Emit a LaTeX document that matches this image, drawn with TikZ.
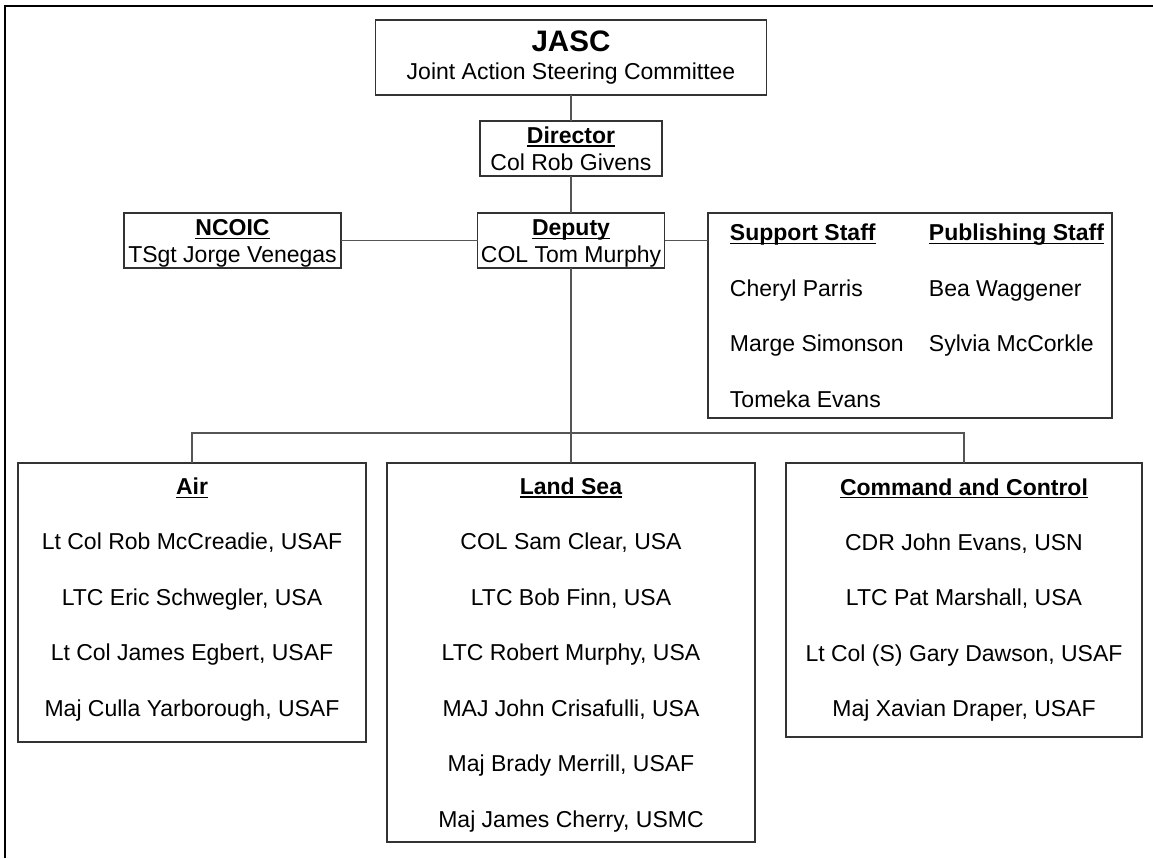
\documentclass[tikz,border=0pt]{standalone}
\usepackage{fontspec}
\setmainfont{Liberation Sans}
\definecolor{boxc}{HTML}{333333}
\definecolor{linec}{HTML}{555555}
\newsavebox\hdbox
\newcommand\uhead[1]{\sbox\hdbox{\textbf{#1}}\rlap{\rule[-2.6pt]{\wd\hdbox}{1.1pt}}\usebox\hdbox}
\newcommand\upstrut[1]{\rule{0pt}{#1}}
\newcommand\dnstrut[1]{\rule[-#1]{0pt}{0pt}}
\begin{document}
\begin{tikzpicture}[x=0.75pt,y=-0.75pt,
  box/.style={draw=boxc, line width=1.4pt, inner sep=0pt, outer sep=0pt, align=center,
    font=\fontsize{17.25pt}{20.25pt}\selectfont},
  team/.style={box, font=\fontsize{17.25pt}{41.6pt}\selectfont},
  conn/.style={draw=linec, line width=1pt},
  frame/.style={draw=black, line width=1.5pt}]
\useasboundingbox (0,0) rectangle (1153,858);
\draw[frame] (5,858) -- (5,6) -- (1153,6);

\node[box, minimum width=293.25pt, minimum height=56.25pt, font=\fontsize{17.25pt}{20.7pt}\selectfont] (jasc) at (571,57.5)
  {{\fontsize{22.2pt}{24pt}\selectfont\textbf{JASC}}\\Joint Action Steering Committee};
\node[box, minimum width=136.5pt, minimum height=41.25pt] (director) at (571,148.5)
  {\uhead{Director}\\Col Rob Givens};
\node[box, minimum width=140.25pt, minimum height=41.25pt] (deputy) at (571,240.5)
  {\upstrut{16.9pt}\uhead{Deputy}\\COL Tom Murphy};
\node[box, minimum width=162.75pt, minimum height=41.25pt] (ncoic) at (232.5,240.5)
  {\upstrut{16.9pt}\uhead{NCOIC}\\TSgt Jorge Venegas};
\node[box, minimum width=303pt, minimum height=153.75pt, font=\fontsize{17.25pt}{20.7pt}\selectfont] (support) at (910,315.5)
  {\begin{tabular}{@{\hspace{10.5pt}}p{149.25pt}@{}l@{}}
   \upstrut{19pt}\uhead{Support Staff} & \uhead{Publishing Staff}\\[20.9pt]
   Cheryl Parris & Bea Waggener\\[20.9pt]
   Marge Simonson & Sylvia McCorkle\\[20.9pt]
   Tomeka Evans &
   \end{tabular}};

\node[team, minimum width=261pt, minimum height=209.25pt] (air) at (192,602.5)
  {\uhead{Air}\\Lt Col Rob McCreadie, USAF\\LTC Eric Schwegler, USA\\Lt Col James Egbert, USAF\\Maj Culla Yarborough, USAF\dnstrut{8.1pt}};
\node[team, minimum width=276pt, minimum height=284.25pt] (land) at (571,652.5)
  {\upstrut{16.1pt}\uhead{Land Sea}\\COL Sam Clear, USA\\LTC Bob Finn, USA\\LTC Robert Murphy, USA\\MAJ John Crisafulli, USA\\Maj Brady Merrill, USAF\\Maj James Cherry, USMC};
\node[team, minimum width=267pt, minimum height=205.5pt] (c2) at (964,600)
  {\uhead{Command and Control}\\CDR John Evans, USN\\LTC Pat Marshall, USA\\Lt Col (S) Gary Dawson, USAF\\Maj Xavian Draper, USAF};

\coordinate (bus) at (571,433);
\draw[conn] (jasc.south) -- (director.north);
\draw[conn] (director.south) -- (deputy.north);
\draw[conn] (ncoic.east) -- (deputy.west);
\draw[conn] (deputy.east) -- (deputy.east -| support.west);
\draw[conn] (deputy.south) -- (land.north);
\draw[conn] (air.north) |- (bus) -| (c2.north);
\end{tikzpicture}
\end{document}
